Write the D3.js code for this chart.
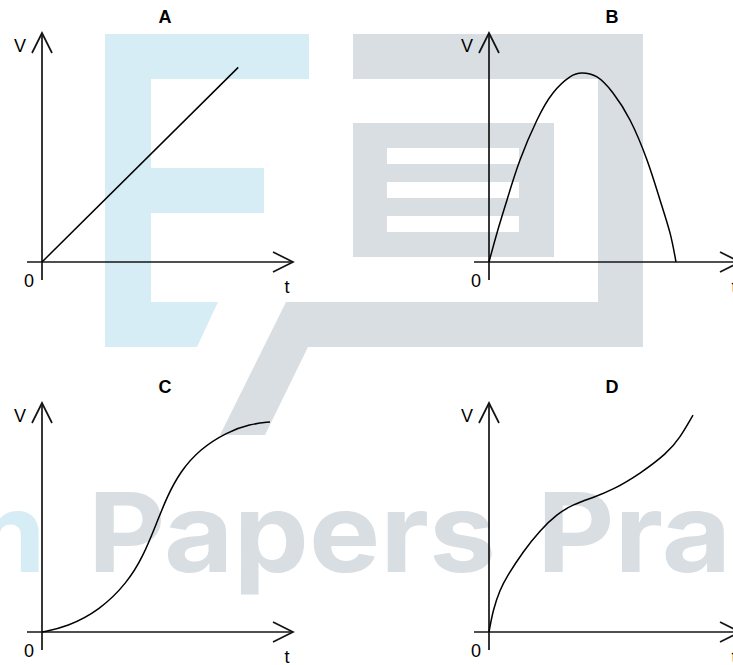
<!DOCTYPE html>
<html>
<head>
<meta charset="utf-8">
<script src="https://cdn.jsdelivr.net/npm/d3@7"></script>
<style>
    body { margin: 0; background: #fff; }
    svg { display: block; }
</style>
</head>
<body>
<svg id="chart"></svg>
<script>
// panel titles
const panelNames = ["A", "B", "C", "D"];

// curves, t and v in axis units (0..10)
const tA = [0, 7.85];
const vA = [0, 8.5];

const tB = [0, 0.32, 0.72, 1.24, 1.92, 2.56, 3.24, 3.72, 4.32, 4.96, 5.64, 6.32, 6.84, 7.24, 7.48];
const vB = [0, 1.27, 2.71, 4.45, 6.2, 7.38, 8.08, 8.25, 8.08, 7.38, 6.2, 4.45, 2.71, 1.27, 0];

const tC = [0, 1.0, 2.32, 3.4, 4.04, 4.6, 5.0, 5.52, 6.32, 7.4, 8.32, 9.12];
const vC = [0, 0.22, 0.96, 2.14, 3.28, 4.80, 5.90, 6.99, 7.99, 8.73, 9.08, 9.17];

const tD = [0, 0.16, 0.44, 0.72, 1.36, 2.04, 2.72, 3.36, 4.16, 4.96, 6.04, 7.12, 7.64, 8.16];
const vD = [0, 0.96, 1.85, 2.43, 3.51, 4.44, 5.15, 5.57, 5.87, 6.21, 6.91, 7.80, 8.48, 9.47];

const axisLabels = ["V", "t", "0"];

const width = 733;
const height = 665;

const svg = d3.select("#chart")
    .attr("width", width)
    .attr("height", height);

function drawWatermark(svg) {
    const wm = svg.append("g").attr("class", "watermark");
    const blue = "#d7edf5";
    const gray = "#d9dee2";

    const blueE = [[105, 34], [309, 34], [309, 79], [151, 79], [151, 168], [264, 168], [264, 213],
        [151, 213], [151, 302], [218, 302], [197, 347], [105, 347]];
    const grayFrame = [[353, 34], [643, 34], [643, 347], [308, 347], [265, 435], [220, 435],
        [286, 302], [598, 302], [598, 79], [353, 79]];

    wm.append("path").attr("d", "M" + blueE.join("L") + "Z").attr("fill", blue);
    wm.append("path").attr("d", "M" + grayFrame.join("L") + "Z").attr("fill", gray);

    wm.append("rect").attr("x", 353).attr("y", 123).attr("width", 201).attr("height", 134).attr("fill", gray);
    [148, 182, 216].forEach(y0 => {
        wm.append("rect").attr("x", 387).attr("y", y0).attr("width", 132).attr("height", 16).attr("fill", "#fff");
    });

    // brand text, partly off the page
    const font = "Inter, 'Open Sans', sans-serif";
    const papers = wm.append("text")
        .attr("x", 88).attr("y", 572)
        .attr("font-family", font).attr("font-weight", 700).attr("font-size", 110)
        .attr("fill", gray)
        .text("Papers");
    const natural = papers.node().getComputedTextLength();
    const sx = 408 / natural;
    papers.attr("textLength", 408).attr("lengthAdjust", "spacingAndGlyphs");

    const practice = wm.append("text")
        .attr("x", 537).attr("y", 572)
        .attr("font-family", font).attr("font-weight", 700).attr("font-size", 110)
        .attr("fill", gray)
        .text("Practice");
    practice.attr("textLength", practice.node().getComputedTextLength() * sx)
        .attr("lengthAdjust", "spacingAndGlyphs");

    const exam = wm.append("text")
        .attr("x", 46).attr("y", 572)
        .attr("text-anchor", "end")
        .attr("font-family", font).attr("font-weight", 700).attr("font-size", 110)
        .attr("fill", blue)
        .text("Exam");
    exam.attr("textLength", exam.node().getComputedTextLength() * sx)
        .attr("lengthAdjust", "spacingAndGlyphs");
}

function drawPanel(name, ts, vs, ox, oy, curve) {
    const g = svg.append("g").attr("class", "panel");
    const x = d3.scaleLinear().domain([0, 10]).range([ox, ox + 250]);
    const y = d3.scaleLinear().domain([0, 10]).range([oy, oy - 229]);

    const ink = "#141414";

    // axes
    g.append("line")
        .attr("x1", x(-0.6)).attr("y1", y(0))
        .attr("x2", x(10.04)).attr("y2", y(0))
        .attr("stroke", ink).attr("stroke-width", 1.7);
    g.append("line")
        .attr("x1", x(0)).attr("y1", y(-0.79))
        .attr("x2", x(0)).attr("y2", y(10))
        .attr("stroke", ink).attr("stroke-width", 1.7);

    // open arrow heads
    const tx = x(10.04), ty = y(0);
    g.append("path")
        .attr("d", `M${tx - 20},${ty - 10}L${tx},${ty}L${tx - 20},${ty + 10}`)
        .attr("fill", "none").attr("stroke", ink).attr("stroke-width", 1.7);
    const vx = x(0), vy = y(10);
    g.append("path")
        .attr("d", `M${vx - 10},${vy + 20}L${vx},${vy}L${vx + 10},${vy + 20}`)
        .attr("fill", "none").attr("stroke", ink).attr("stroke-width", 1.7);

    const labelFont = "'Liberation Sans', Arial, sans-serif";
    g.append("text")
        .attr("x", ox - 22).attr("y", oy - 210)
        .attr("text-anchor", "middle")
        .attr("font-family", labelFont).attr("font-size", 18)
        .text(axisLabels[0]);
    g.append("text")
        .attr("x", ox + 245).attr("y", oy + 31)
        .attr("text-anchor", "middle")
        .attr("font-family", labelFont).attr("font-size", 18)
        .text(axisLabels[1]);
    g.append("text")
        .attr("x", ox - 13).attr("y", oy + 25)
        .attr("text-anchor", "middle")
        .attr("font-family", labelFont).attr("font-size", 18)
        .text(axisLabels[2]);

    g.append("text")
        .attr("x", ox + 123).attr("y", oy - 239)
        .attr("text-anchor", "middle")
        .attr("font-family", labelFont).attr("font-size", 18).attr("font-weight", "bold")
        .text(name);

    const line = d3.line()
        .x(d => x(d[0]))
        .y(d => y(d[1]))
        .curve(curve);

    g.append("path")
        .datum(d3.zip(ts, vs))
        .attr("d", line)
        .attr("fill", "none")
        .attr("stroke", "#000")
        .attr("stroke-width", 1.5);
}

drawWatermark(svg);

const origins = [[42, 262], [489, 262], [42, 632], [489, 632]];
const series = [[tA, vA], [tB, vB], [tC, vC], [tD, vD]];
const curves = [d3.curveLinear, d3.curveNatural, d3.curveBasis, d3.curveBasis];

panelNames.forEach((name, i) => {
    drawPanel(name, series[i][0], series[i][1], origins[i][0], origins[i][1], curves[i]);
});
</script>
</body>
</html>
